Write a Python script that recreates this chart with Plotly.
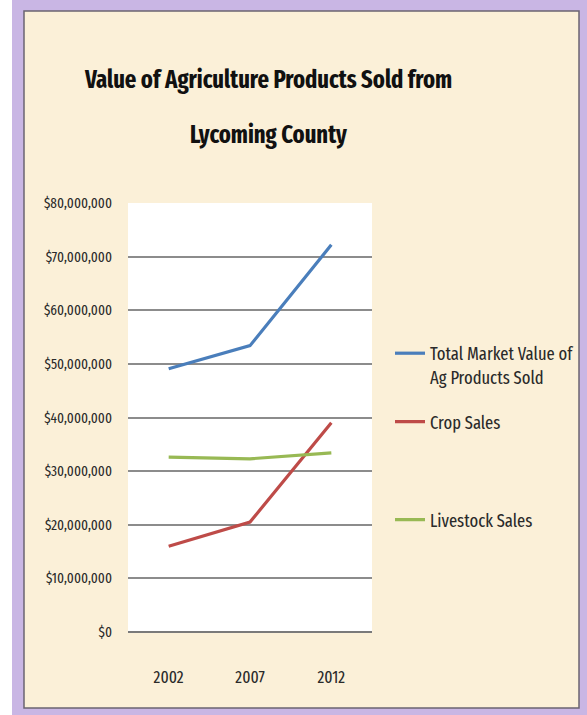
import plotly.graph_objects as go

years = ["2002", "2007", "2012"]
total_market = [49_100_000, 53_400_000, 72_200_000]
crop_sales = [16_000_000, 20_500_000, 39_000_000]
livestock_sales = [32_600_000, 32_300_000, 33_400_000]
y_ticks = [0, 10_000_000, 20_000_000, 30_000_000, 40_000_000, 50_000_000, 60_000_000, 70_000_000, 80_000_000]
y_tick_labels = ["$0", "$10,000,000", "$20,000,000", "$30,000,000", "$40,000,000",
                 "$50,000,000", "$60,000,000", "$70,000,000", "$80,000,000"]

W, H = 587, 715
L, R, T, B = 128, 372, 203, 632  # plot area pixels
pw, ph = R - L, B - T

def px(x):
    return (x - L) / pw

def py(y):
    return (B - y) / ph

FONT = "Fira Sans Extra Condensed, Archivo Narrow, DejaVu Sans Condensed, sans-serif"

fig = go.Figure()
fig.add_trace(go.Scatter(x=years, y=total_market, mode="lines",
                         name="Total Market Value of<br>Ag Products Sold",
                         line=dict(color="#4a7ebb", width=3.2), legend="legend"))
fig.add_trace(go.Scatter(x=years, y=crop_sales, mode="lines", name="Crop Sales",
                         line=dict(color="#be4b48", width=3.2), legend="legend2"))
fig.add_trace(go.Scatter(x=years, y=livestock_sales, mode="lines", name="Livestock Sales",
                         line=dict(color="#98b954", width=3.2), legend="legend3"))

shapes = [
    dict(type="rect", xref="paper", yref="paper", x0=px(12), x1=px(W + 5), y0=py(H + 5), y1=py(-5),
         fillcolor="#c9b6e4", line=dict(width=0), layer="below"),
    dict(type="rect", xref="paper", yref="paper", x0=px(24), x1=px(579), y0=py(708), y1=py(11),
         fillcolor="#fbf0d8", line=dict(color="#6b6470", width=1.5), layer="below"),
    dict(type="rect", xref="paper", yref="paper", x0=0, x1=1, y0=0, y1=1,
         fillcolor="#ffffff", line=dict(width=0), layer="below"),
]

annotations = [
    dict(text="<b>Value of Agriculture Products Sold from</b>", xref="paper", yref="paper",
         x=px(268), y=py(79), xanchor="center", yanchor="middle", showarrow=False,
         font=dict(family=FONT, size=24.5, color="#111111")),
    dict(text="<b>Lycoming County</b>", xref="paper", yref="paper",
         x=px(268), y=py(134), xanchor="center", yanchor="middle", showarrow=False,
         font=dict(family=FONT, size=24.5, color="#111111")),
]

legend_common = dict(bgcolor="rgba(0,0,0,0)", borderwidth=0,
                     font=dict(family=FONT, size=18, color="#2a2a2a"),
                     xanchor="left", x=px(390), itemclick=False, itemdoubleclick=False)

fig.update_layout(
    width=W, height=H,
    margin=dict(l=L, r=W - R, t=T, b=H - B, pad=0, autoexpand=False),
    paper_bgcolor="#ffffff",
    plot_bgcolor="rgba(0,0,0,0)",
    shapes=shapes,
    annotations=annotations,
    showlegend=True,
    legend=dict(**legend_common, y=py(335), yanchor="top", valign="top"),
    legend2=dict(**legend_common, y=py(422), yanchor="middle"),
    legend3=dict(**legend_common, y=py(520), yanchor="middle"),
    xaxis=dict(type="category", range=[-0.5, 2.5], showgrid=False, zeroline=False,
               showline=False, ticks="", ticklabelstandoff=33,
               tickfont=dict(family=FONT, size=17, color="#2a2a2a")),
    yaxis=dict(range=[0, 80_000_000], tickvals=y_ticks, ticktext=y_tick_labels,
               showgrid=True, gridcolor="#8c8c8c", gridwidth=1.5, zeroline=True,
               zerolinecolor="#7a7a7a", zerolinewidth=1.5, showline=False, ticks="",
               ticklabelstandoff=15,
               tickfont=dict(family=FONT, size=14.5, color="#2a2a2a")),
)

fig.write_html("out.html", config={"displayModeBar": False},
               post_script="document.body.style.margin='0';document.body.style.overflow='hidden';")
